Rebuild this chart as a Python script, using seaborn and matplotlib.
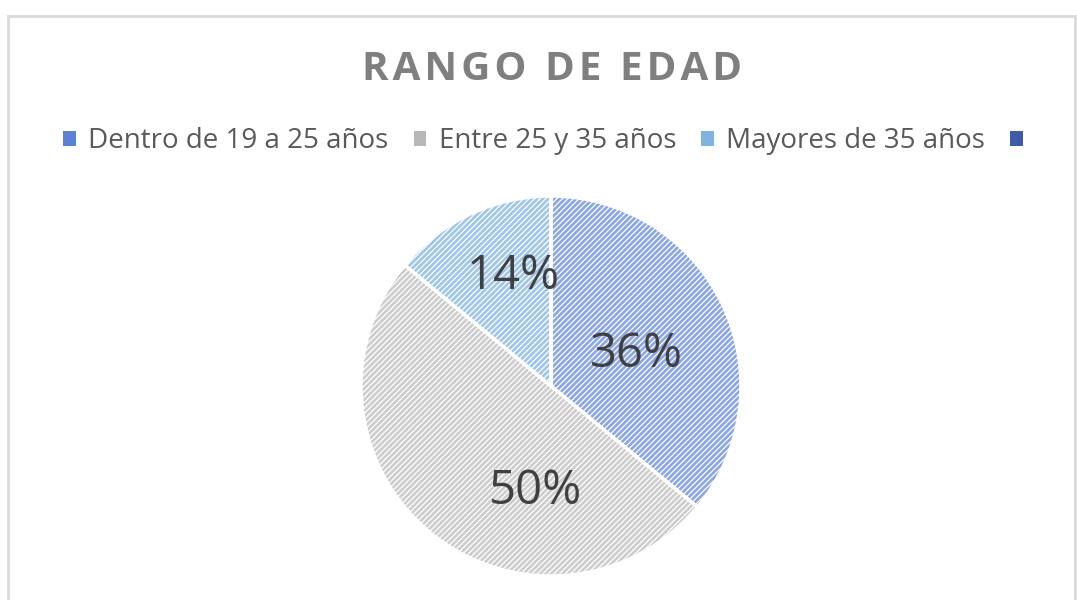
import matplotlib
matplotlib.use("Agg")
import numpy as np
import matplotlib.pyplot as plt
from matplotlib.patches import Patch, Rectangle
import seaborn as sns

# datos del grafico
titulo = "RANGO DE EDAD"
categorias = ["Dentro de 19 a 25 años", "Entre 25 y 35 años", "Mayores de 35 años", ""]
porcentajes = [36, 50, 14, 0]

colores_pie = ["#8aa6e4", "#cdcdcd", "#9fc6ea", "#3f5aa8"]
colores_leyenda = ["#5b80d4", "#b8b8b8", "#7eb4e2", "#3f5aa8"]

sns.set_theme(style="white")
plt.rcParams["font.family"] = ["Open Sans", "DejaVu Sans"]
plt.rcParams["hatch.linewidth"] = 0.9

fig = plt.figure(figsize=(10.77, 6), dpi=100)
fig.patch.set_facecolor("white")

# marco del grafico
fig.patches.append(Rectangle((8 / 1077, -0.1), 1067 / 1077, (600 - 16) / 600 + 0.1,
                             transform=fig.transFigure, fill=False,
                             edgecolor="#d9d9d9", linewidth=2))

ax = fig.add_axes([(551 - 190) / 1077, (214 - 190) / 600, 380 / 1077, 380 / 600])


def etiqueta(p):
    return "" if p < 0.5 else f"{p:.0f}%"


wedges, texts, autotexts = ax.pie(
    porcentajes, colors=colores_pie, startangle=90, counterclock=False,
    autopct=etiqueta, pctdistance=0.56,
    wedgeprops=dict(edgecolor="white", linewidth=2.5, hatch="//////"),
    textprops=dict(fontsize=34, color="#404040"))

# posicion de las etiquetas como en Excel (radio, angulo)
pos_etiquetas = [(0.48, 20.6), (0.56, -98.6), (0.61, 109.0), (0.5, 90)]
for t, (r, a) in zip(autotexts, pos_etiquetas):
    t.set_position((r * np.cos(np.radians(a)), r * np.sin(np.radians(a))))

ax.set_xlim(-1, 1)
ax.set_ylim(-1, 1)
ax.set_aspect("equal")
ax.axis("off")

fig.text(0.5125, 1 - 69 / 600, "\u200a".join(titulo), ha="center", va="center",
         fontsize=29, fontweight="bold", color="#7f7f7f")

handles = [Patch(facecolor=c, edgecolor="none") for c in colores_leyenda]
fig.legend(handles, categorias, loc="center", bbox_to_anchor=(0.51, 1 - 141 / 600),
           ncol=4, frameon=False, fontsize=20, handlelength=0.45, handleheight=0.45,
           handletextpad=0.45, columnspacing=0.9, labelcolor="#595959")

fig.savefig("out.png", dpi=100)
